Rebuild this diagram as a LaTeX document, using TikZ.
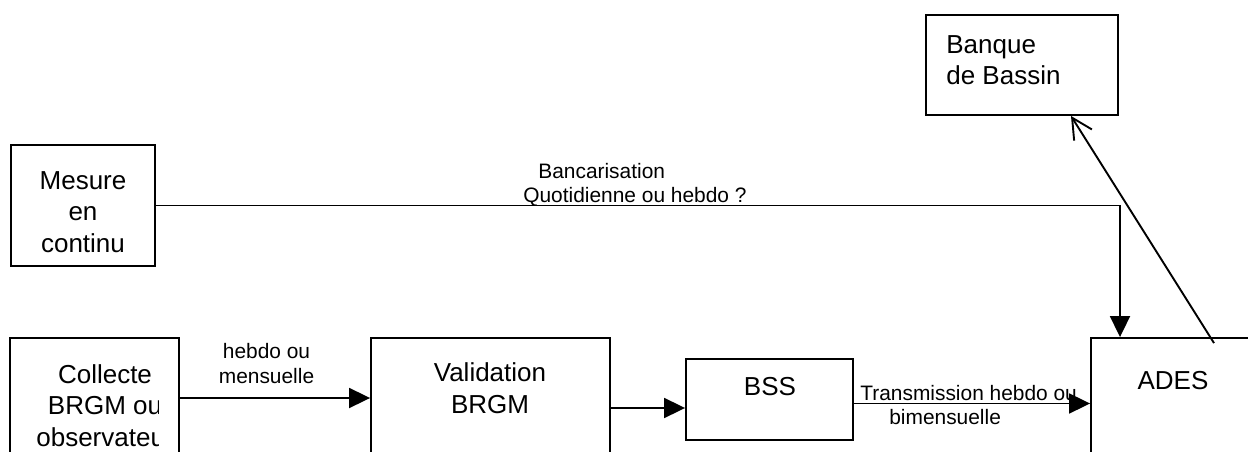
\documentclass[tikz,border=0pt]{standalone}
\usepackage{fontspec}
\setmainfont{Liberation Sans}
\usetikzlibrary{arrows.meta,positioning}

\tikzset{
  box/.style={draw, line width=0.038cm, inner sep=0pt},
  boxtext/.style={font=\fontsize{14.8}{17.9}\selectfont, align=center, inner sep=0pt},
  flowlabel/.style={font=\fontsize{11.9}{13.9}\selectfont, inner sep=0pt},
  flow/.style={line width=0.038cm, -{Triangle[length=0.42cm,width=0.4cm]}},
  openflow/.style={line width=0.038cm, -{Straight Barb[length=0.41cm,width=0.42cm]}}
}

\begin{document}
\begin{tikzpicture}[x=0.02cm,y=-0.02cm]
                \clip (0,0) rectangle (1248,452);

                % Drawing box mesure
                \node [box, minimum width=2.88cm, minimum height=2.42cm] (mesure) at (83,205.5) {};%
                \node [boxtext] (mesuretxt) at (83,212) {Mesure\\en\\continu};%

                % Drawing box collecte
                \node [box, minimum width=3.38cm, minimum height=3.24cm] (collecte) at (94.5,419) {};%
                \begin{scope}
                  \clip (10,330) rectangle (158,452);
                  \node [boxtext] (collectetxt) at (105,405.5) {Collecte\\BRGM ou\\observateur};%
                \end{scope}

                % Drawing box validation
                \node [box, minimum width=4.78cm, minimum height=3.24cm] (validation) at (490.5,419) {};%
                \node [boxtext] (validationtxt) at (490,388) {Validation\\BRGM};%

                % Drawing box bss
                \node [box, minimum width=3.34cm, minimum height=1.62cm] (bss) at (769.5,399.5) {};%
                \node [boxtext] (bsstxt) at (770,387) {BSS};%

                % Drawing box ades
                \node [box, minimum width=4.18cm, minimum height=3.24cm] (ades) at (1195.5,419) {};%
                \node [boxtext] (adestxt) at (1173,381) {ADES};%

                % Drawing box banque
                \node [box, minimum width=3.84cm, minimum height=2cm] (banque) at (1022,65) {};%
                \node [boxtext, align=left, anchor=west] (banquetxt) at (946,60) {Banque\\de Bassin};%

                % Drawing arrow mesure ades
                \coordinate (bend) at (1120,205.5);
                \draw [flow] (mesure.east) -- (bend) -- (bend |- ades.north);%
                \node [flowlabel, align=left, anchor=west] (bancarisation) at (523,185)
                  {\hspace*{0.3cm}Bancarisation\\Quotidienne ou hebdo ?};%

                % Drawing arrow collecte validation
                \draw [flow] ([yshift=0.42cm]collecte.east) -- ([yshift=0.42cm]validation.west);%
                \node [flowlabel, align=center] (hebdo) at (266.5,363.5) {hebdo ou\\mensuelle};%

                % Drawing arrow validation bss
                \draw [flow] ([yshift=0.22cm]validation.east) -- ([yshift=0.22cm]validation.east -| bss.west);%

                % Drawing arrow bss ades
                \draw [flow] ([yshift=-0.08cm]bss.east) -- ([yshift=-0.08cm]bss.east -| ades.west);%
                \node [flowlabel, align=left, anchor=west] (transmission) at (860,405)
                  {Transmission hebdo ou\\\hspace*{0.58cm}bimensuelle};%

                % Drawing arrow ades banque
                \draw [openflow] ([xshift=0.37cm,yshift=-0.12cm]ades.north) -- ([xshift=0.98cm]banque.south);%
\end{tikzpicture}
\end{document}
